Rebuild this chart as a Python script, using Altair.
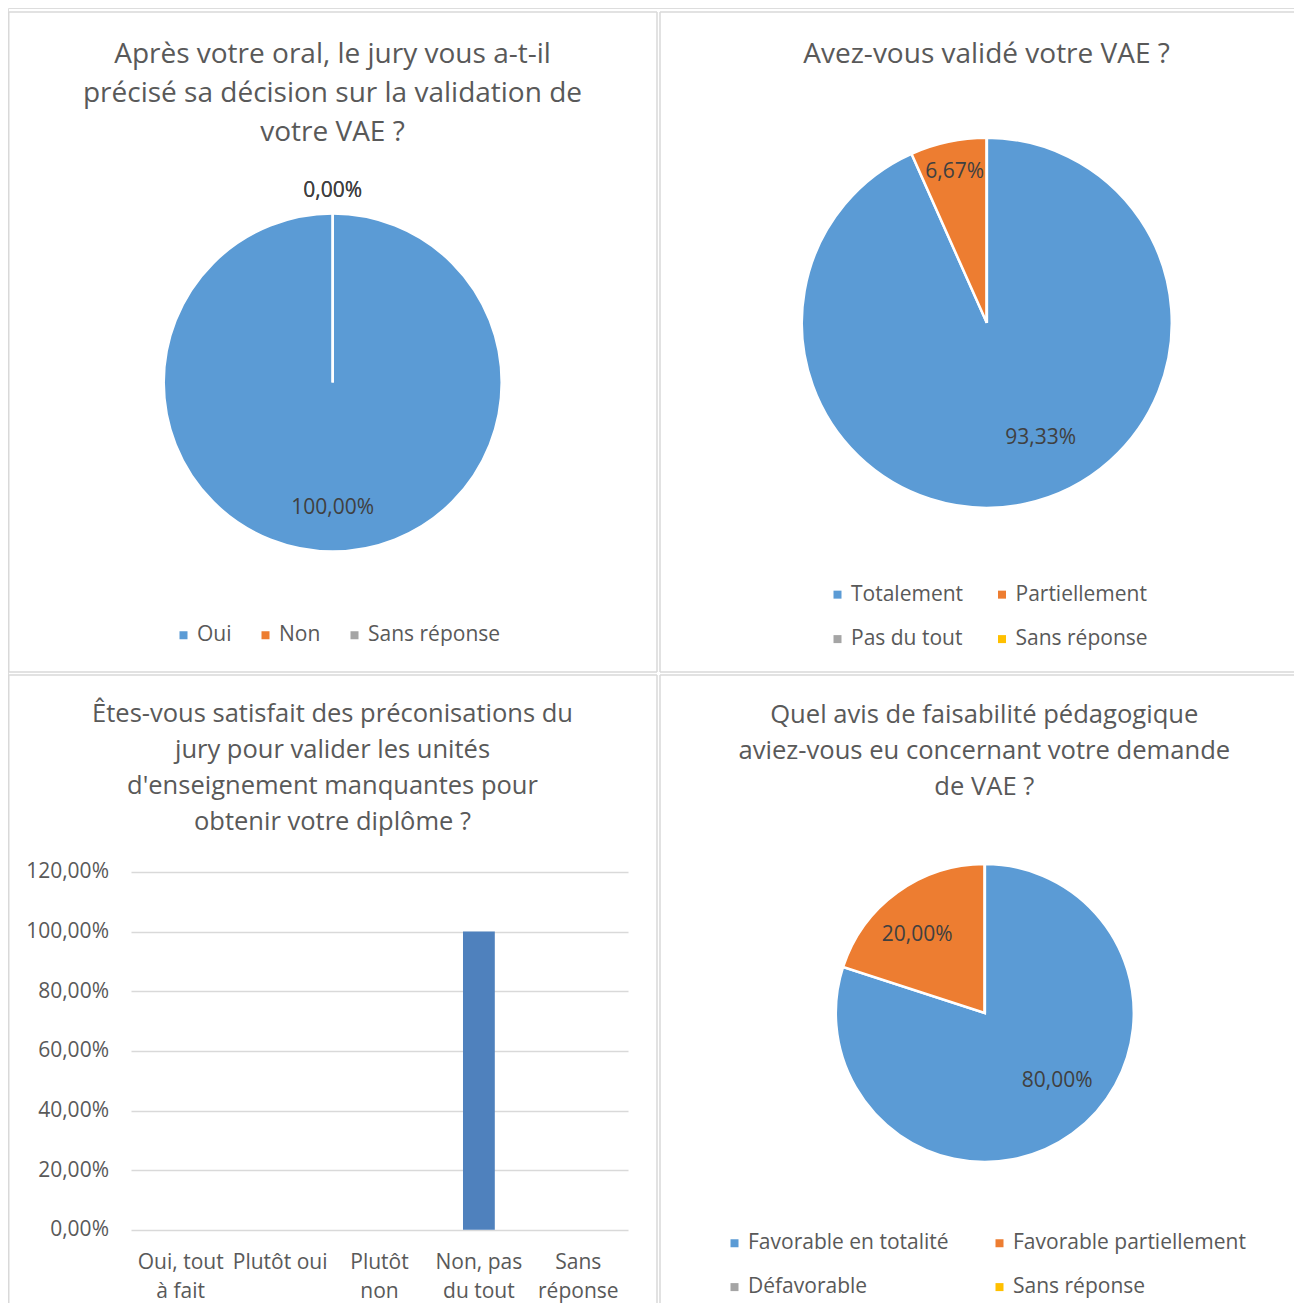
import math
import altair as alt
import pandas as pd

FONT = "Open Sans"
TXT = "#595959"
LAB = "#404040"
GRID = "#d9d9d9"

# ---------------- data ----------------
q1_title = ["Après votre oral, le jury vous a-t-il",
            "précisé sa décision sur la validation de",
            "votre VAE ?"]
q1_cats = ["Oui", "Non", "Sans réponse"]
q1_vals = [1.0, 0.0, 0.0]
q1_colors = ["#5B9BD5", "#ED7D31", "#A5A5A5"]

q2_title = ["Avez-vous validé votre VAE ?"]
q2_cats = ["Totalement", "Partiellement", "Pas du tout", "Sans réponse"]
q2_vals = [0.9333, 0.0667, 0.0, 0.0]
q2_colors = ["#5B9BD5", "#ED7D31", "#A5A5A5", "#FFC000"]

q3_title = ["Êtes-vous satisfait des préconisations du",
            "jury pour valider les unités",
            "d'enseignement manquantes pour",
            "obtenir votre diplôme ?"]
q3_cats = ["Oui, tout\nà fait", "Plutôt oui", "Plutôt\nnon", "Non, pas\ndu tout", "Sans\nréponse"]
q3_vals = [0.0, 0.0, 0.0, 1.0, 0.0]
q3_ticks = [0.0, 0.2, 0.4, 0.6, 0.8, 1.0, 1.2]

q4_title = ["Quel avis de faisabilité pédagogique",
            "aviez-vous eu concernant votre demande",
            "de VAE ?"]
q4_cats = ["Favorable en totalité", "Favorable partiellement", "Défavorable", "Sans réponse"]
q4_vals = [0.80, 0.20, 0.0, 0.0]
q4_colors = ["#5B9BD5", "#ED7D31", "#A5A5A5", "#FFC000"]

# drawing area (page body is 1286 px wide)
W, H = 1286, 1295


def pct(v):
    return f"{v * 100:.2f}".replace(".", ",") + "%"


def frame(cats, vals):
    return pd.DataFrame({"cat": cats, "val": vals, "idx": list(range(len(cats))),
                         "lab": [pct(v) for v in vals]})


one = pd.DataFrame({"k": [0]})
theta_scale = alt.Scale(domain=[0, 1], range=[0, 2 * math.pi])


def hline(x, x2, y):
    return alt.Chart(one).mark_rule(color=GRID, strokeWidth=1.5).encode(
        x=alt.value(x), x2=alt.value(x2), y=alt.value(y))


def vline(x, y, y2):
    return alt.Chart(one).mark_rule(color=GRID, strokeWidth=1.5).encode(
        x=alt.value(x), y=alt.value(y), y2=alt.value(y2))


def title_layer(lines, size, lh, x, y):
    return alt.Chart(one).mark_text(
        text=lines, font=FONT, fontSize=size, lineHeight=lh, color=TXT,
        align="center", baseline="alphabetic"
    ).encode(x=alt.value(x), y=alt.value(y))


def pie_layers(cats, vals, colors, cx, cy, r, labels, lx, ly, cols, colpad, rowpad):
    df = frame(cats, vals)
    arc = alt.Chart(df).mark_arc(radius=r, stroke="white", strokeWidth=2.5).encode(
        theta=alt.Theta("val:Q", stack=True, scale=theta_scale),
        order=alt.Order("idx:Q"),
        color=alt.Color("cat:N", scale=alt.Scale(domain=cats, range=colors),
                        legend=alt.Legend(title=None, orient="none", legendX=lx, legendY=ly,
                                          direction="horizontal", columns=cols,
                                          symbolType="square", symbolSize=64,
                                          symbolStrokeWidth=0, labelFont=FONT,
                                          labelFontSize=21, labelColor=TXT,
                                          labelOffset=3, columnPadding=colpad,
                                          rowPadding=rowpad, padding=0, labelLimit=0)),
        x=alt.value(cx), y=alt.value(cy),
    )
    out = [arc]
    for cat, rr, off in labels:
        t = alt.Chart(df).transform_window(
            cum="sum(val)", sort=[alt.SortField("idx")], frame=[None, 0]
        ).transform_calculate(
            mid="datum.cum - datum.val / 2"
        ).transform_filter(alt.datum.cat == cat).mark_text(
            radius=rr, thetaOffset=off, font=FONT, fontSize=21, color=LAB,
            align="center", baseline="middle"
        ).encode(
            theta=alt.Theta("mid:Q", scale=theta_scale, stack=None),
            text="lab:N", x=alt.value(cx), y=alt.value(cy),
        )
        out.append(t)
    return out


# panel borders; the right and bottom edges of the right/bottom panels lie outside the page
borders = [
    hline(0.75, 649, 4), vline(0.75, 4, 664), vline(649, 4, 664), hline(0.75, 649, 664),
    hline(652, W, 4), vline(652, 4, 664), hline(652, W, 664),
    hline(0.75, 649, 667), vline(0.75, 667, H), vline(649, 667, H),
    hline(652, W, 667), vline(652, 667, H),
]

l1 = pie_layers(q1_cats, q1_vals, q1_colors, 324.7, 374.5, 169,
                [("Oui", 125, 0.0), ("Non", 191.5, 0.0), ("Sans réponse", 191.5, 0.0)],
                165, 616.5, 3, 23, 0)
l2 = pie_layers(q2_cats, q2_vals, q2_colors, 978.8, 314.8, 185,
                [("Totalement", 127, -0.229), ("Partiellement", 154, 0.0)],
                819, 575.9, 2, 27.5, 22.7)
l4 = pie_layers(q4_cats, q4_vals, q4_colors, 976.8, 1005, 149,
                [("Favorable en totalité", 99, -0.192), ("Favorable partiellement", 103, -0.087)],
                716, 1224.5, 2, 40, 22.1)

df3 = pd.DataFrame({"cat": q3_cats, "val": q3_vals})
X0, X1 = 123, 620
Y0, Y1 = 1221.8, 863.9
bar = alt.Chart(df3).mark_bar(color="#4F81BD").encode(
    x=alt.X("cat:N", sort=q3_cats,
            scale=alt.Scale(domain=q3_cats, range=[X0, X1], paddingInner=0.68, paddingOuter=0.34),
            axis=alt.Axis(title=None, labelAngle=0, domain=False, ticks=False, tickSize=0,
                          grid=False, labelExpr="split(datum.label, '\\n')",
                          labelFont=FONT, labelFontSize=21, labelColor=TXT,
                          labelLineHeight=28.3, labelPadding=22, offset=Y0 - H,
                          labelLimit=0, labelOverlap=False, labelFlush=False)),
    y=alt.Y("val:Q",
            scale=alt.Scale(domain=[0, 1.2], range=[Y0, Y1], nice=False, zero=True),
            axis=alt.Axis(title=None, values=q3_ticks, domain=False, ticks=False, tickSize=0,
                          grid=True, gridColor=GRID, gridWidth=1.3,
                          labelExpr="replace(format(datum.value, '.2%'), '.', ',')",
                          labelFont=FONT, labelFontSize=21, labelColor=TXT,
                          labelPadding=22.5, offset=-X0, labelOverlap=False)),
)

titles = [
    title_layer(q1_title, 28, 39, 324.5, 55),
    title_layer(q2_title, 28, 39, 978.6, 55),
    title_layer(q3_title, 25.5, 35.8, 324.5, 714.4),
    title_layer(q4_title, 25.6, 36, 976.3, 715),
]

chart = alt.layer(*borders, bar, *l1, *l2, *l4, *titles).resolve_scale(
    color="independent"
).resolve_legend(color="independent").properties(
    width=W, height=H,
    autosize=alt.AutoSizeParams(type="none"),
    padding={"left": 0, "top": 0, "right": 0, "bottom": 0},
    background="white",
).configure_view(stroke=None).configure(font=FONT)

chart.save("out.html", embed_options={"renderer": "svg", "actions": False})
